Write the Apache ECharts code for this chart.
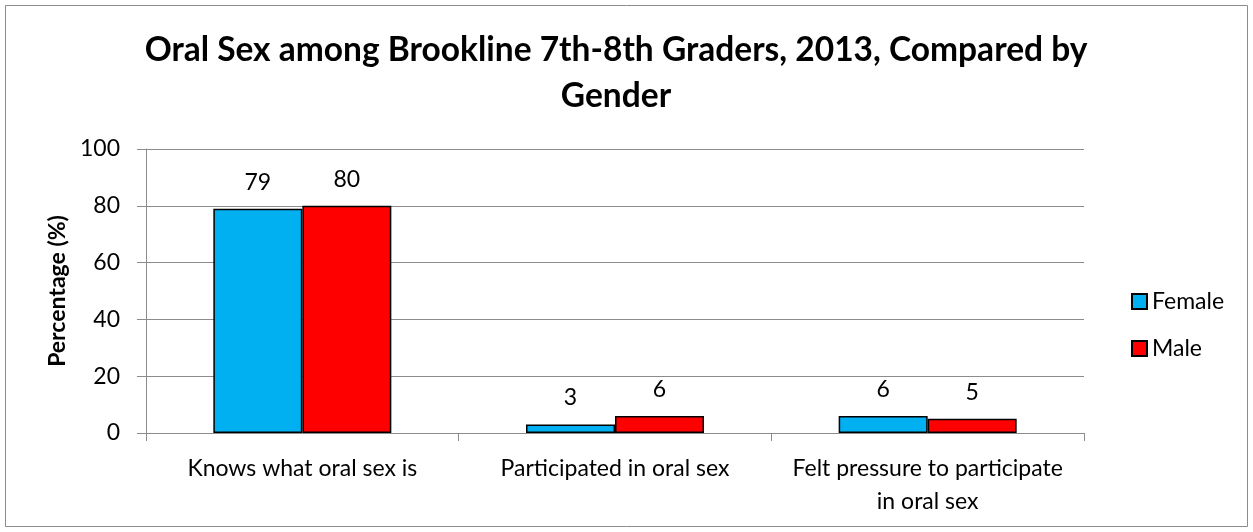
<!DOCTYPE html>
<html><head><meta charset="utf-8">
<script src="https://cdn.jsdelivr.net/npm/echarts@6/dist/echarts.min.js"></script>
<style>html,body{margin:0;padding:0;background:#fff}#c{width:1253px;height:532px}</style>
</head><body><div id="c"></div>
<script>
const categories = ["Knows what oral sex is", "Participated in oral sex", "Felt pressure to participate\nin oral sex"];
const female = [79, 3, 6];
const male = [80, 6, 5];
const yTicks = [0, 20, 40, 60, 80, 100];
const FONT = "Lato, 'Open Sans', sans-serif";
const chart = echarts.init(document.getElementById('c'));
chart.setOption({
  backgroundColor: '#fff',
  animation: false,
  graphic: [{type:'rect', shape:{x:5.5,y:5.5,width:1242,height:521}, style:{fill:'none', stroke:'#8c8c8c', lineWidth:1}}],
  title: {
    text: "Oral Sex among Brookline 7th-8th Graders, 2013, Compared by\nGender",
    left: 611, top: 22, textAlign: 'center',
    textStyle: {fontFamily: FONT, fontWeight: 'bold', fontSize: 33.5, color: '#000', lineHeight: 46}
  },
  legend: {
    orient: 'vertical', left: 1126, top: 285, itemGap: 24, itemTextGap: 7,
    itemWidth: 15, itemHeight: 15, icon: 'rect',
    textStyle: {fontFamily: FONT, fontSize: 23, color: '#000'},
    data: ['Female', 'Male']
  },
  grid: {left: 146, right: 169, top: 149, bottom: 99, containLabel: false},
  xAxis: {
    type: 'category', data: categories,
    axisLine: {lineStyle: {color: '#8c8c8c'}},
    axisTick: {show: true, length: 8, lineStyle: {color: '#8c8c8c'}},
    axisLabel: {interval: 0, hideOverlap: false, fontFamily: FONT, fontSize: 23, color: '#000', margin: 19, lineHeight: 33}
  },
  yAxis: {
    type: 'value', min: 0, max: 100, interval: 20,
    name: 'Percentage (%)', nameLocation: 'middle', nameGap: 72,
    nameTextStyle: {fontFamily: FONT, fontWeight: 'bold', fontSize: 23, color: '#000'},
    axisLine: {show: true, lineStyle: {color: '#8c8c8c'}},
    axisTick: {show: true, length: 9, lineStyle: {color: '#8c8c8c'}},
    splitLine: {lineStyle: {color: '#8c8c8c'}},
    axisLabel: {fontFamily: FONT, fontSize: 23, color: '#000', margin: 26,
      formatter: v => yTicks.includes(v) ? String(v) : ''}
  },
  series: [
    {name: 'Female', type: 'bar', data: female, barWidth: 89, barGap: '0%',
     itemStyle: {color: '#00b0f0', borderColor: '#000', borderWidth: 1.5},
     label: {show: true, position: 'top', distance: 15, fontFamily: FONT, fontSize: 23, color: '#000'}},
    {name: 'Male', type: 'bar', data: male, barWidth: 89, barGap: '0%',
     itemStyle: {color: '#ff0000', borderColor: '#000', borderWidth: 1.5},
     label: {show: true, position: 'top', distance: 15, fontFamily: FONT, fontSize: 23, color: '#000'}}
  ]
});
</script></body></html>
